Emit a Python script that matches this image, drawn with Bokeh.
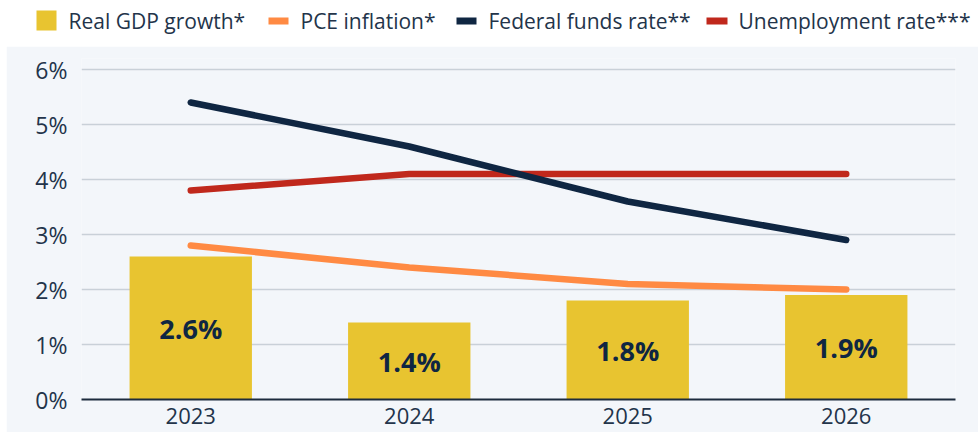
from bokeh.plotting import figure
from bokeh.models import ColumnDataSource, FixedTicker, Range1d, FactorRange, Spacer
from bokeh.layouts import column, row
from bokeh.embed import file_html
from bokeh.resources import INLINE
from bokeh.core.properties import value

years = ["2023", "2024", "2025", "2026"]
gdp_growth = [2.6, 1.4, 1.8, 1.9]
pce_inflation = [2.8, 2.4, 2.1, 2.0]
fed_funds = [5.4, 4.6, 3.6, 2.9]
unemployment = [3.8, 4.1, 4.1, 4.1]
y_ticks = [0, 1, 2, 3, 4, 5, 6]
legend_labels = ["Real GDP growth*", "PCE inflation*", "Federal funds rate**", "Unemployment rate***"]

FONT = "Open Sans"
YELLOW = "#e8c430"
ORANGE = "#ff8a43"
NAVY = "#0f2642"
RED = "#c0281c"
BG = "#f3f6fa"
TEXT = "#23344a"
legend_colors = [YELLOW, ORANGE, NAVY, RED]

# layout positions of the legend (pixels in the legend strip)
legend_glyph_left = [36, 268, 456, 706]
legend_glyph_right = [56, 288, 476, 727]
legend_glyph_top = [10, 17, 17, 17]
legend_glyph_bottom = [30, 24, 24, 24]
legend_text_x = [68, 300, 488, 738]
legend_text_y = [20, 20, 20, 20]

src = ColumnDataSource(dict(
    year=years, gdp=gdp_growth, pce=pce_inflation, ffr=fed_funds, unemp=unemployment,
    label_y=[g / 2 for g in gdp_growth], label=[f"{g}%" for g in gdp_growth],
))

# ---- legend strip (white) ----
top = figure(width=978, height=46, x_range=Range1d(0, 978), y_range=Range1d(46, 0),
             toolbar_location=None, output_backend="svg", x_axis_type=None, y_axis_type=None,
             min_border=0, min_border_left=0, min_border_right=0, min_border_top=0, min_border_bottom=0)
top.outline_line_color = None
top.background_fill_color = "white"
top.border_fill_color = "white"
top.grid.visible = False
leg = ColumnDataSource(dict(l=legend_glyph_left, r=legend_glyph_right, t=legend_glyph_top,
                            b=legend_glyph_bottom, c=legend_colors, tx=legend_text_x,
                            ty=legend_text_y, label=legend_labels))
top.quad(left="l", right="r", top="t", bottom="b", fill_color="c", line_color=None, source=leg)
top.text(x="tx", y="ty", text="label", source=leg, text_align="left", text_baseline="middle",
         text_font=value(FONT), text_font_size="21px", text_color=TEXT)

# ---- main chart ----
p = figure(width=972, height=386, x_range=FactorRange(*years, range_padding=0),
           y_range=Range1d(0, 6.2), toolbar_location=None, output_backend="svg",
           min_border_left=75, min_border_right=23, min_border_top=12, min_border_bottom=33)
p.background_fill_color = BG
p.border_fill_color = BG
p.outline_line_color = None

p.vbar(x="year", top="gdp", width=0.56, source=src, fill_color=YELLOW, line_color=None)
for col, color in [("pce", ORANGE), ("unemp", RED), ("ffr", NAVY)]:
    p.line(x="year", y=col, source=src, line_color=color, line_width=6.5, line_cap="round", line_join="round")
p.text(x="year", y="label_y", text="label", source=src, text_align="center", text_baseline="middle",
       text_font=value(FONT), text_font_size="27px", text_font_style="bold", text_color=NAVY)

p.xgrid.visible = False
p.ygrid.grid_line_color = "#c9d0d8"
p.ygrid.grid_line_width = 1.5
p.yaxis.ticker = FixedTicker(ticks=y_ticks)
p.yaxis.major_label_overrides = {t: f"{t}%" for t in y_ticks}
p.yaxis.axis_line_color = None
p.yaxis.major_tick_line_color = None
p.yaxis.minor_tick_line_color = None
p.yaxis.major_label_standoff = 8
p.yaxis.major_label_text_font_size = "23px"
p.xaxis.axis_line_color = "#1d2b3c"
p.xaxis.axis_line_width = 2
p.xaxis.major_tick_line_color = None
p.xaxis.minor_tick_line_color = None
p.xaxis.major_label_standoff = 2
p.xaxis.major_label_text_font_size = "22px"
for ax in (p.xaxis, p.yaxis):
    ax.major_label_text_font = FONT
    ax.major_label_text_color = TEXT

layout = column(top, row(Spacer(width=6, height=386), p, spacing=0), spacing=0)
open("out.html", "w").write(file_html(layout, INLINE))
